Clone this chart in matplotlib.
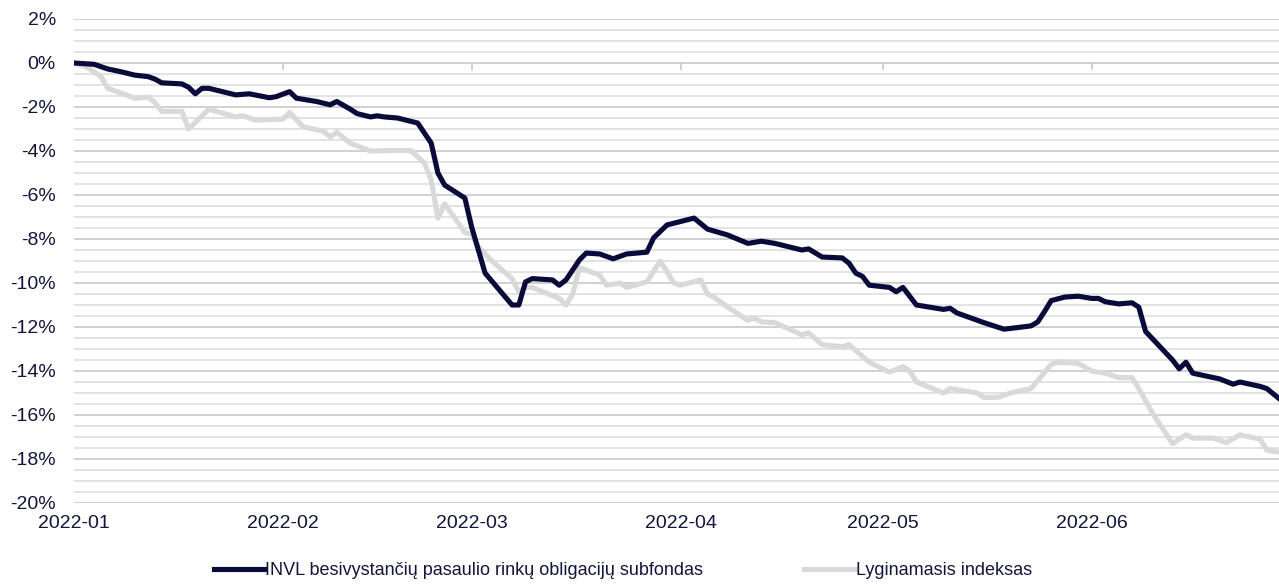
import pandas as pd
import matplotlib
matplotlib.use("Agg")
import matplotlib.pyplot as plt
import matplotlib.dates as mdates
from matplotlib.ticker import PercentFormatter, MultipleLocator

plt.rcParams['font.family'] = ['Liberation Sans', 'DejaVu Sans']
plt.rcParams['axes.unicode_minus'] = False

# fondo grąža (%), nuskaityta iš grafiko
fund_dates = ['2022-01-01', '2022-01-04', '2022-01-06', '2022-01-08', '2022-01-10', '2022-01-12',
              '2022-01-13', '2022-01-14', '2022-01-17', '2022-01-18', '2022-01-19', '2022-01-20',
              '2022-01-21', '2022-01-25', '2022-01-27', '2022-01-30', '2022-01-31', '2022-02-02',
              '2022-02-03', '2022-02-06', '2022-02-08', '2022-02-09', '2022-02-11', '2022-02-12',
              '2022-02-14', '2022-02-15', '2022-02-16', '2022-02-18', '2022-02-21', '2022-02-23',
              '2022-02-24', '2022-02-25', '2022-02-28', '2022-03-01', '2022-03-03', '2022-03-07',
              '2022-03-08', '2022-03-09', '2022-03-10', '2022-03-13', '2022-03-14', '2022-03-15',
              '2022-03-17', '2022-03-18', '2022-03-20', '2022-03-22', '2022-03-24', '2022-03-27',
              '2022-03-28', '2022-03-30', '2022-04-03', '2022-04-05', '2022-04-06', '2022-04-08',
              '2022-04-11', '2022-04-13', '2022-04-15', '2022-04-19', '2022-04-20', '2022-04-22',
              '2022-04-25', '2022-04-26', '2022-04-27', '2022-04-28', '2022-04-29', '2022-05-02',
              '2022-05-03', '2022-05-04', '2022-05-06', '2022-05-10', '2022-05-11', '2022-05-12',
              '2022-05-16', '2022-05-19', '2022-05-23', '2022-05-24', '2022-05-25', '2022-05-26',
              '2022-05-28', '2022-05-30', '2022-06-01', '2022-06-02', '2022-06-03', '2022-06-05',
              '2022-06-07', '2022-06-08', '2022-06-09', '2022-06-13', '2022-06-14', '2022-06-15',
              '2022-06-16', '2022-06-20', '2022-06-22', '2022-06-23', '2022-06-26', '2022-06-27',
              '2022-06-29']
fund_values = [0.0, -0.06, -0.27, -0.40, -0.55, -0.62,
               -0.73, -0.90, -0.95, -1.10, -1.40, -1.15,
               -1.15, -1.45, -1.40, -1.58, -1.53, -1.30,
               -1.60, -1.75, -1.90, -1.75, -2.10, -2.30,
               -2.45, -2.40, -2.45, -2.50, -2.73, -3.64,
               -5.00, -5.55, -6.14, -7.45, -9.55, -11.0,
               -11.0, -9.95, -9.80, -9.86, -10.1, -9.86,
               -8.95, -8.64, -8.68, -8.90, -8.68, -8.60,
               -7.95, -7.36, -7.05, -7.55, -7.64, -7.82,
               -8.20, -8.10, -8.20, -8.50, -8.45, -8.82,
               -8.86, -9.10, -9.55, -9.70, -10.1, -10.2,
               -10.4, -10.2, -11.0, -11.2, -11.15, -11.36,
               -11.8, -12.1, -11.95, -11.77, -11.3, -10.8,
               -10.64, -10.6, -10.7, -10.7, -10.85, -10.95,
               -10.9, -11.1, -12.2, -13.5, -13.9, -13.6,
               -14.1, -14.36, -14.6, -14.5, -14.7, -14.8,
               -15.3]

# lyginamojo indekso grąža (%)
index_dates = ['2022-01-01', '2022-01-03', '2022-01-05', '2022-01-06', '2022-01-08', '2022-01-10',
               '2022-01-12', '2022-01-13', '2022-01-14', '2022-01-17', '2022-01-18', '2022-01-19',
               '2022-01-20', '2022-01-21', '2022-01-25', '2022-01-26', '2022-01-28', '2022-02-01',
               '2022-02-02', '2022-02-04', '2022-02-07', '2022-02-08', '2022-02-09', '2022-02-11',
               '2022-02-14', '2022-02-17', '2022-02-20', '2022-02-22', '2022-02-23', '2022-02-24',
               '2022-02-25', '2022-02-28', '2022-03-01', '2022-03-02', '2022-03-04', '2022-03-07',
               '2022-03-08', '2022-03-09', '2022-03-10', '2022-03-14', '2022-03-15', '2022-03-16',
               '2022-03-17', '2022-03-20', '2022-03-21', '2022-03-23', '2022-03-24', '2022-03-27',
               '2022-03-29', '2022-03-31', '2022-04-01', '2022-04-04', '2022-04-05', '2022-04-06',
               '2022-04-08', '2022-04-11', '2022-04-12', '2022-04-13', '2022-04-15', '2022-04-19',
               '2022-04-20', '2022-04-22', '2022-04-25', '2022-04-26', '2022-04-29', '2022-05-01',
               '2022-05-02', '2022-05-04', '2022-05-05', '2022-05-06', '2022-05-10', '2022-05-11',
               '2022-05-15', '2022-05-16', '2022-05-18', '2022-05-20', '2022-05-23', '2022-05-26',
               '2022-05-27', '2022-05-30', '2022-06-01', '2022-06-03', '2022-06-05', '2022-06-07',
               '2022-06-08', '2022-06-10', '2022-06-13', '2022-06-15', '2022-06-16', '2022-06-19',
               '2022-06-21', '2022-06-23', '2022-06-26', '2022-06-27', '2022-06-29']
index_values = [0.0, -0.20, -0.62, -1.15, -1.37, -1.60,
                -1.55, -1.80, -2.20, -2.20, -3.00, -2.70,
                -2.40, -2.10, -2.45, -2.40, -2.60, -2.55,
                -2.25, -2.90, -3.10, -3.35, -3.15, -3.65,
                -4.00, -3.98, -3.98, -4.55, -5.30, -7.05,
                -6.40, -7.70, -7.80, -8.35, -9.00, -9.80,
                -10.4, -10.2, -10.2, -10.7, -11.0, -10.5,
                -9.30, -9.64, -10.1, -10.0, -10.2, -9.95,
                -9.00, -10.0, -10.1, -9.86, -10.5, -10.65,
                -11.1, -11.7, -11.6, -11.77, -11.8, -12.36,
                -12.27, -12.8, -12.9, -12.8, -13.6, -13.9,
                -14.05, -13.8, -14.0, -14.5, -15.0, -14.8,
                -15.0, -15.2, -15.2, -15.0, -14.8, -13.7,
                -13.6, -13.65, -14.0, -14.1, -14.3, -14.3,
                -14.8, -15.9, -17.3, -16.9, -17.05, -17.05,
                -17.25, -16.9, -17.1, -17.6, -17.7]

fund_label = 'INVL besivystančių pasaulio rinkų obligacijų subfondas'
index_label = 'Lyginamasis indeksas'

navy = '#0b0b3b'
grey = '#d9d9d9'
text_col = '#14143c'

fig = plt.figure(figsize=(12.79, 5.84), dpi=100)
ax = fig.add_axes([74 / 1279, 1 - 503 / 584, 1205 / 1279, 484 / 584])

ax.plot(pd.to_datetime(index_dates), index_values, color=grey, lw=3.7,
        solid_joinstyle='round', label=index_label, zorder=3)
ax.plot(pd.to_datetime(fund_dates), fund_values, color=navy, lw=3.7,
        solid_joinstyle='round', label=fund_label, zorder=4)

start = pd.Timestamp('2022-01-01')
ax.set_xlim(start, start + pd.Timedelta(days=178.8))
ax.set_ylim(-20, 2)

ax.yaxis.set_major_locator(MultipleLocator(2))
ax.yaxis.set_minor_locator(MultipleLocator(0.5))
ax.yaxis.set_major_formatter(PercentFormatter(decimals=0))
ax.grid(axis='y', which='major', color='#d0d0d0', lw=1.4, zorder=0)
ax.grid(axis='y', which='minor', color='#e3e3e3', lw=1.4, zorder=0)
ax.set_axisbelow(True)

months = pd.date_range('2022-01-01', '2022-06-01', freq='MS')
ax.xaxis.set_major_locator(mdates.MonthLocator())
ax.xaxis.set_major_formatter(mdates.DateFormatter('%Y-%m'))
# maži brūkšneliai ant 0% linijos
ax.vlines(months[1:], -0.3, 0, color='#c8c8c8', lw=1.2, zorder=1)

ax.tick_params(axis='both', which='both', length=0, labelsize=14, colors=text_col)
ax.tick_params(axis='y', pad=13)
ax.tick_params(axis='x', pad=9)
for s in ax.spines.values():
    s.set_visible(False)

handles, labels = ax.get_legend_handles_labels()
fig.legend(handles[::-1], labels[::-1], loc='lower center', bbox_to_anchor=(0.487, -0.02),
           ncol=2, frameon=False, fontsize=13, handlelength=2.8, handletextpad=0.05,
           columnspacing=5.6, labelcolor=text_col)

fig.savefig('out.png', dpi=100)
